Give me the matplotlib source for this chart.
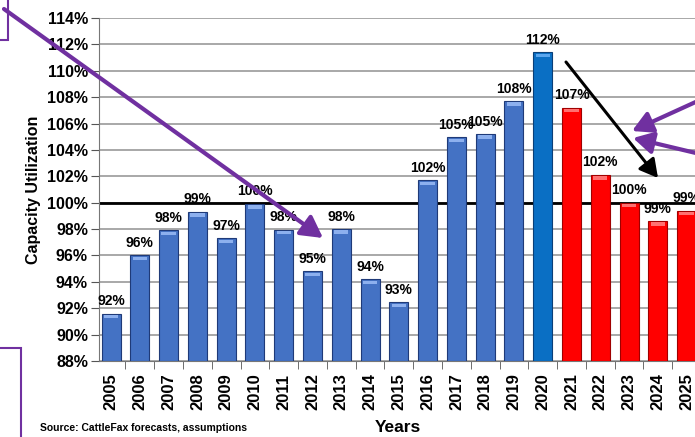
import numpy as np
import matplotlib
matplotlib.use("Agg")
import matplotlib.pyplot as plt
from matplotlib.patches import Rectangle, FancyArrowPatch

plt.rcParams['font.family'] = ['Liberation Sans', 'DejaVu Sans']
plt.rcParams['font.weight'] = 'bold'

years = ['2005', '2006', '2007', '2008', '2009', '2010', '2011', '2012', '2013',
         '2014', '2015', '2016', '2017', '2018', '2019', '2020', '2021', '2022',
         '2023', '2024', '2025']
util = [91.6, 96.0, 97.9, 99.3, 97.3, 99.9, 97.95, 94.8, 98.0, 94.2, 92.45,
        101.7, 104.95, 105.2, 107.7, 111.4, 107.2, 102.1, 100.0, 98.6, 99.4]
labels = ['92%', '96%', '98%', '99%', '97%', '100%', '98%', '95%', '98%', '94%',
          '93%', '102%', '105%', '105%', '108%', '112%', '107%', '102%', '100%',
          '99%', '99%']
# 0 = history, 1 = 2020, 2 = forecast
kind = [0] * 15 + [1] + [2] * 5

cols = {0: '#4472C4', 1: '#0A6FC4', 2: '#FF0000'}
edges = {0: '#1F3A78', 1: '#0A3F78', 2: '#A00000'}
tops = {0: '#8DB0EE', 1: '#5AA6EE', 2: '#FF7070'}

fig = plt.figure(figsize=(6.95, 4.37), dpi=100)
W, H = 695, 437
ax = fig.add_axes([99 / W, 76 / H, 602 / W, 343 / H])

x = np.arange(len(years))
base = 88
for i in range(len(years)):
    k = kind[i]
    ax.bar(x[i], util[i] - base, bottom=base, width=0.66,
           color=cols[k], edgecolor=edges[k], linewidth=0.8, zorder=3)
    # light rim on top of each bar
    ax.bar(x[i], 0.25, bottom=util[i] - 0.35, width=0.5, color=tops[k],
           linewidth=0, zorder=3.5)
    ax.annotate(labels[i], (x[i], util[i]), xytext=(0, 4), textcoords='offset points',
                ha='center', va='bottom', fontsize=10, fontweight='bold', zorder=4)

ax.set_ylim(88, 114)
ax.set_xlim(-0.42, 20.5)
ax.set_yticks(np.arange(88, 115, 2))
ax.set_yticklabels([f'{v}%' for v in range(88, 115, 2)], fontsize=11.5, fontweight='bold')
ax.yaxis.grid(True, color='#9a9a9a', linewidth=1.2, zorder=0)
ax.axhline(100, color='black', linewidth=2, zorder=2)

ax.set_xticks(x)
ax.set_xticklabels(years, rotation=90, fontsize=12, fontweight='bold')
ax.set_xticks(x[:-1] + 0.5, minor=True)
ax.tick_params(axis='x', which='major', length=0, pad=9)
ax.tick_params(axis='x', which='minor', length=6, color='#555555', direction='out')
ax.tick_params(axis='y', length=6, color='#555555', pad=2)

for s in ['top', 'right']:
    ax.spines[s].set_visible(False)
ax.spines['left'].set_color('#777777')
ax.spines['bottom'].set_color('#777777')

ax.set_ylabel('Capacity Utilization', fontsize=11.5, fontweight='bold', labelpad=4)
fig.text(398 / W, 1 - 428 / H, 'Years', ha='center', va='center', fontsize=12.5, fontweight='bold')
fig.text(40 / W, 1 - 428 / H, 'Source: CattleFax forecasts, assumptions',
         ha='left', va='center', fontsize=7.5, fontweight='bold')

# overlay annotations (figure pixels)
purple = '#7030A0'
fig.add_artist(Rectangle((-5, H - 40), 13, 50, transform=None, fill=False,
                         edgecolor=purple, linewidth=1.5))
fig.add_artist(Rectangle((-5, -5), 26, H - 348 + 5, transform=None, fill=False,
                         edgecolor=purple, linewidth=1.5))

def arrow(p0, p1, color, lw, head):
    a = FancyArrowPatch((p0[0], H - p0[1]), (p1[0], H - p1[1]), transform=None,
                        arrowstyle=f'-|>,head_length={head},head_width={head * 0.55}',
                        mutation_scale=20, color=color, linewidth=lw, zorder=10,
                        shrinkA=0, shrinkB=0)
    fig.add_artist(a)

arrow((4, 9), (323, 238), purple, 3, 0.65)
arrow((700, 100), (632, 131), purple, 3, 0.6)
arrow((700, 154), (633, 138), purple, 3, 0.6)
arrow((566, 62), (658, 178), 'black', 2.2, 0.55)

fig.savefig('out.png', dpi=100)
